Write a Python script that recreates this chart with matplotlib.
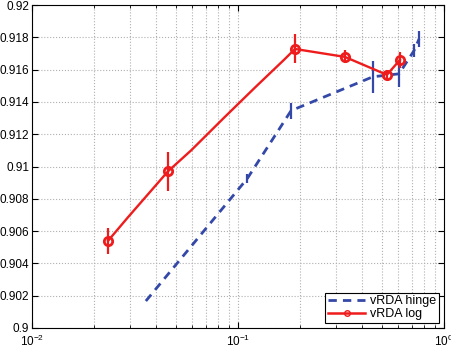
import numpy as np
import matplotlib.pyplot as plt

plt.rcParams['font.family'] = ['Liberation Sans', 'DejaVu Sans']

# vRDA log: full line (with unmarked intermediate points)
log_x = [0.0234, 0.0292, 0.0457, 0.0591, 0.0855, 0.122, 0.167, 0.189, 0.330, 0.528, 0.611]
log_y = [0.9054, 0.90685, 0.9097, 0.91099, 0.91302, 0.91494, 0.91660, 0.91728, 0.91679, 0.91568, 0.91660]
# points carrying markers / error bars
log_ex = [0.0234, 0.0457, 0.189, 0.330, 0.528, 0.611]
log_ey = [0.9054, 0.9097, 0.91728, 0.91679, 0.91568, 0.91660]
log_err = [0.0008, 0.0012, 0.0009, 0.0004, 0.0003, 0.0005]

# vRDA hinge
hinge_x = [0.0357, 0.111, 0.181, 0.452, 0.605, 0.714, 0.757]
hinge_y = [0.90167, 0.90926, 0.91346, 0.91556, 0.91574, 0.91716, 0.9179]
hinge_ex = [0.111, 0.181, 0.452, 0.605, 0.714, 0.757]
hinge_ey = [0.90926, 0.91346, 0.91556, 0.91574, 0.91716, 0.9179]
hinge_err = [0.0003, 0.0005, 0.0010, 0.0008, 0.0004, 0.0005]

blue = '#3448a8'
red = '#ee1c1c'

fig = plt.figure(figsize=(4.52, 3.48), dpi=100)
ax = fig.add_axes([0.0708, 0.0575, 0.9115, 0.928])

ax.plot(hinge_x, hinge_y, '--', color=blue, lw=2, dashes=(3, 2.2), label='vRDA hinge')
ax.vlines(hinge_ex, np.array(hinge_ey) - hinge_err, np.array(hinge_ey) + hinge_err, color=blue, lw=1.6)

ax.plot(log_x, log_y, '-', color=red, lw=1.7)
ax.vlines(log_ex, np.array(log_ey) - log_err, np.array(log_ey) + log_err, color=red, lw=1.6)
ax.plot(log_ex, log_ey, 'o', color=red, mfc='none', mew=2, ms=6)
ax.plot([], [], '-o', color=red, mfc='none', mew=1, ms=4, lw=1.8, label='vRDA log')

ax.set_xscale('log')
ax.set_xlim(0.01, 1)
ax.set_ylim(0.9, 0.92)
ax.set_yticks(np.arange(0.9, 0.9201, 0.002))
ax.set_yticklabels(['0.9', '0.902', '0.904', '0.906', '0.908', '0.91', '0.912',
                    '0.914', '0.916', '0.918', '0.92'])
ax.tick_params(which='both', direction='in', top=True, right=True, labelsize=8.5, pad=2)
ax.tick_params(axis='x', which='major', pad=4)
ax.tick_params(which='minor', length=2)
ax.tick_params(which='major', length=4)
ax.grid(True, which='both', axis='x', linestyle=':', color='#b0b0b0', lw=0.8)
ax.grid(True, which='major', axis='y', linestyle=':', color='#b0b0b0', lw=0.8)
for s in ax.spines.values():
    s.set_linewidth(0.8)

leg = ax.legend(loc='lower right', fontsize=9, fancybox=False, edgecolor='black',
                framealpha=1, handlelength=3, borderpad=0.2, labelspacing=0.1,
                borderaxespad=0.4, handletextpad=0.4)
leg.get_frame().set_linewidth(0.8)

fig.savefig('out.png', dpi=100)
